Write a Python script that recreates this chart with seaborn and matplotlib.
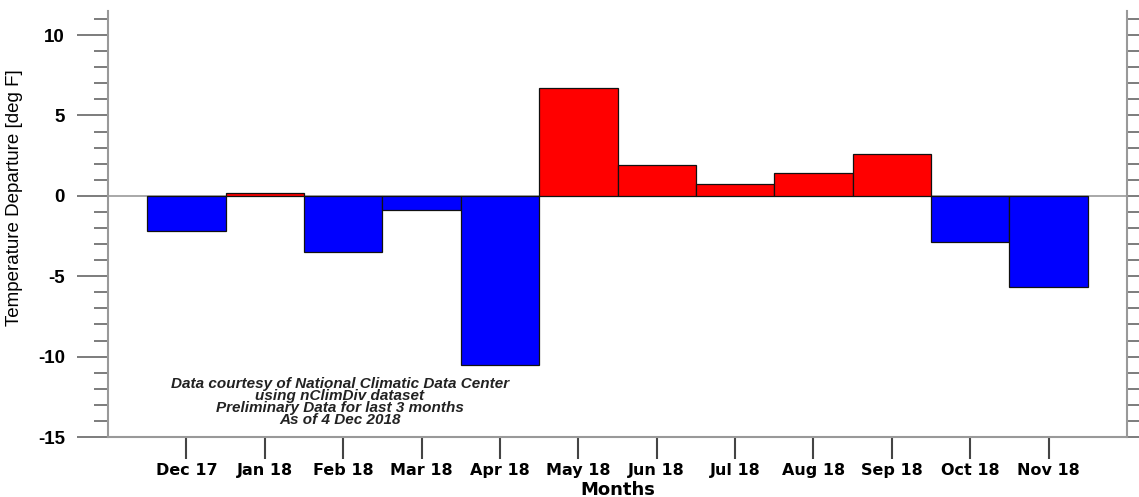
import matplotlib
matplotlib.use("Agg")
import matplotlib.pyplot as plt
import seaborn as sns
import pandas as pd
from matplotlib.ticker import MultipleLocator

months = ["Dec 17", "Jan 18", "Feb 18", "Mar 18", "Apr 18", "May 18",
          "Jun 18", "Jul 18", "Aug 18", "Sep 18", "Oct 18", "Nov 18"]
departure = [-2.2, 0.2, -3.5, -0.85, -10.55, 6.7, 1.9, 0.75, 1.45, 2.6, -2.85, -5.65]

df = pd.DataFrame({"month": months, "dep": departure})
df["sign"] = ["pos" if v > 0 else "neg" for v in df["dep"]]

sns.set_style("white")
plt.rcParams["font.family"] = ["Liberation Sans", "DejaVu Sans"]
plt.rcParams["axes.unicode_minus"] = False
plt.rcParams["text.color"] = "black"
plt.rcParams["xtick.labelcolor"] = "black"
plt.rcParams["ytick.labelcolor"] = "black"

fig = plt.figure(figsize=(11.39, 4.97), dpi=100)
ax = fig.add_axes([0.0948, 0.1207, 0.8947, 0.8572])

sns.barplot(data=df, x="month", y="dep", hue="sign",
            palette={"pos": "#ff0000", "neg": "#0000ff"}, saturation=1,
            dodge=False, width=1.0, edgecolor="#111111", linewidth=0.9,
            legend=False, ax=ax, zorder=3)

ax.axhline(0, color="#999999", lw=1.2, zorder=2)
ax.set_xlim(-1, 12)
ax.set_ylim(-15, 11.5)

ax.yaxis.set_major_locator(MultipleLocator(5))
ax.yaxis.set_minor_locator(MultipleLocator(1))
ax.tick_params(axis="y", which="major", left=True, right=True, direction="out",
               length=22, width=1.2, color="#666666", pad=9,
               labelsize=13.5, labelright=False)
ax.tick_params(axis="y", which="minor", left=True, right=True, direction="out",
               length=10, width=1.2, color="#666666")
ax.tick_params(axis="x", bottom=True, direction="out", length=16, width=1.5,
               color="#444444", pad=3, labelsize=11.5)
for lab in ax.get_yticklabels():
    lab.set_fontweight("bold")
for lab in ax.get_xticklabels():
    lab.set_fontweight("bold")
    lab.set_family("DejaVu Sans")

# right side ticks shorter
for t in ax.yaxis.get_major_ticks() + ax.yaxis.get_minor_ticks():
    t.tick2line.set_markersize(12)

ax.spines["top"].set_visible(False)
for s in ["left", "right", "bottom"]:
    ax.spines[s].set_color("#999999")
    ax.spines[s].set_linewidth(1.5)

ax.set_ylabel("Temperature Departure [deg F]", fontsize=13.5, color="black")
ax.yaxis.set_label_coords(-0.083, 0.563)
ax.set_xlabel("Months", fontsize=13, fontweight="bold", color="black",
              family="DejaVu Sans")
ax.xaxis.set_label_coords(0.5, -0.103)

note = ("Data courtesy of National Climatic Data Center\n"
        "using nClimDiv dataset\n"
        "Preliminary Data for last 3 months\n"
        "As of 4 Dec 2018")
ax.text(1.96, -12.85, note, ha="center", va="center", fontsize=11,
        style="italic", fontweight="bold", linespacing=0.82, color="#222222")

fig.savefig("out.png", dpi=100)
